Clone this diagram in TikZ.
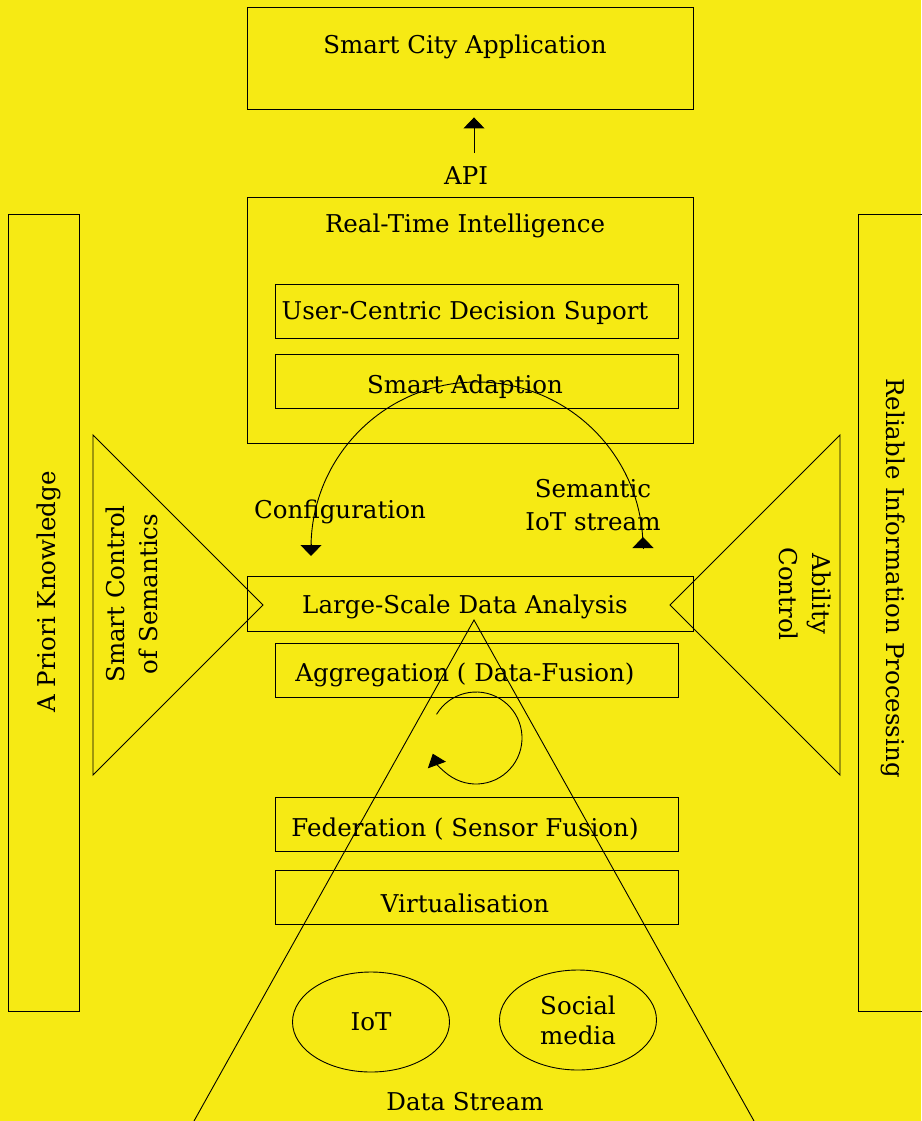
\documentclass[tikz,border=0pt]{standalone}
\usepackage{fontspec}
\setmainfont{DejaVu Serif}
\usetikzlibrary{arrows.meta,shapes.geometric}
\definecolor{bgyellow}{RGB}{246,234,20}
\begin{document}
\begin{tikzpicture}[x=1pt,y=-1pt,
  box/.style={draw, line width=0.9pt, inner sep=0pt},
  wide/.style={box, minimum width=446pt},
  inner/.style={box, minimum width=403pt, minimum height=54pt},
  side/.style={box, minimum height=797pt},
  lbl/.style={font=\fontsize{24.5}{33}\selectfont, inner sep=0pt, align=center},
  blob/.style={ellipse, draw, line width=0.9pt, minimum width=157pt, minimum height=100pt, inner sep=0pt, align=center, font=\fontsize{24.5}{30}\selectfont},
  tip/.style={-{Triangle[width=21pt,length=11pt]}},
  thin/.style={line width=0.9pt}]
\useasboundingbox (0,0) rectangle (921,1121);
\fill[bgyellow] (0,0) rectangle (921,1121);

% stacked layers
\node[wide, minimum height=102pt] (app) at (470,58) {};
\node[wide, minimum height=246pt] (rti) at (470,320) {};
\node[inner] (ucd) at (476.5,311) {};
\node[inner] (sad) at (476.5,381) {};
\node[wide, minimum height=55pt] (lsd) at (470,603.5) {};
\node[inner] (agg) at (476.5,670) {};
\node[inner] (fed) at (476.5,824) {};
\node[inner] (vir) at (476.5,897) {};

% side columns
\node[side, minimum width=71pt] (apk) at (43.5,612.5) {};
\node[side, minimum width=77pt] (rip) at (896.5,612.5) {};

% control wedges
\coordinate (lt) at (93,435); \coordinate (lb) at (93,775); \coordinate (lp) at (263,605);
\coordinate (rt) at (840,435); \coordinate (rb) at (840,775); \coordinate (rp) at (670,605);
\draw[thin] (lt) -- (lp) -- (lb) -- cycle;
\draw[thin] (rt) -- (rp) -- (rb) -- cycle;

% data stream pyramid
\coordinate (apex) at (474,620);
\coordinate (bl) at (194,1121);
\coordinate (br) at (754,1121);
\draw[thin] (bl) -- (apex) -- (br);

% sources
\node[blob] (iot) at (371,1022) {IoT};
\node[blob] (soc) at (578,1020) {Social\\media};

% API link
\coordinate (apifoot) at (474,153);
\draw[thin, tip, shorten >=8pt] (apifoot) -- (apifoot |- app.south);

% configuration / semantic stream loop
\coordinate (loopR) at (643,548);
\coordinate (loopL) at (311,548);
\draw[thin] (loopR) arc[start angle=0, end angle=-180, radius=166];
\draw[thin, tip] ([shift={(0,-4)}]loopL) -- ([shift={(0,8)}]loopL);
\draw[thin, tip] ([shift={(0,1)}]loopR) -- ([shift={(0,-11)}]loopR);

% fusion cycle
\coordinate (cyc) at (476,738);
\draw[thin, -{Triangle[width=19pt,length=12pt]}] ([shift={(-149:46)}]cyc) arc[start angle=-149, end angle=160, radius=46];

% labels
\node[lbl] (tApp) at (465,47) {Smart City Application};
\node[lbl] (tApi) at (466,176) {API};
\node[lbl] (tRti) at (465,226) {Real-Time Intelligence};
\node[lbl] (tUcd) at (465,313) {User-Centric Decision Suport};
\node[lbl] (tSad) at (465,387) {Smart Adaption};
\node[lbl] (tCfg) at (340,512) {Configuration};
\node[lbl] (tSem) at (593,505) {Semantic\\IoT stream};
\node[lbl] (tLsd) at (465,607) {Large-Scale Data Analysis};
\node[lbl] (tAgg) at (465,675) {Aggregation ( Data-Fusion)};
\node[lbl] (tFed) at (465,829) {Federation ( Sensor Fusion)};
\node[lbl] (tVir) at (465,903) {Virtualisation};
\node[lbl] (tDs) at (465,1102) {Data Stream};
\node[lbl, rotate=90] (tApk) at (49,592) {A Priori Knowledge};
\node[lbl, rotate=90] (tScs) at (132,594) {Smart Control\\of Semantics};
\node[lbl, rotate=-90] (tAc) at (805,594) {Ability\\Control};
\node[lbl, rotate=-90] (tRip) at (893,578) {Reliable Information Processing};
\end{tikzpicture}
\end{document}
